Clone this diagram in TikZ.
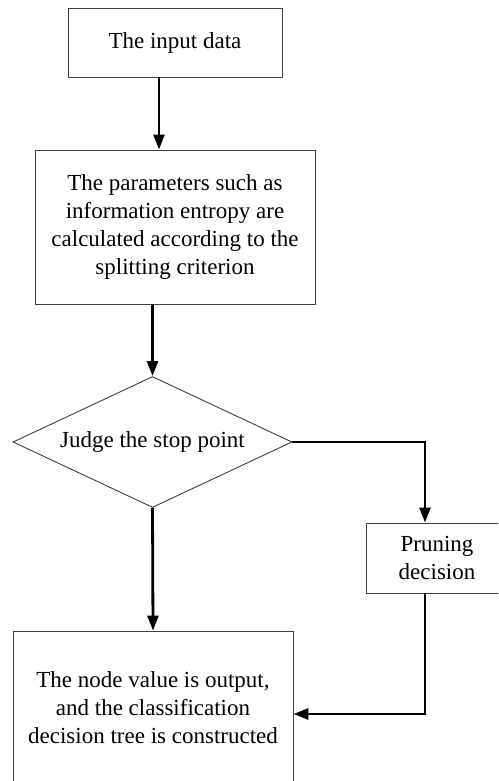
\documentclass[tikz,border=0pt]{standalone}
\usepackage{fontspec}
\setmainfont{Liberation Serif}
\usetikzlibrary{arrows.meta,shapes.geometric}

\begin{document}
\begin{tikzpicture}[x=1pt,y=-1pt,
    box/.style={draw=black!75, line width=0.9pt, rectangle, align=center,
                inner sep=0pt, font=\fontsize{23}{28}\selectfont},
    judgebox/.style={box, diamond, aspect=2.13},
    flow/.style={line width=2.8pt, -{Triangle[width=11pt,length=15pt]}}]
  % page frame
  \useasboundingbox (0,0) rectangle (498,781);
  \clip (0,0) rectangle (498,781);

  % steps
  \node[box, minimum width=214, minimum height=69] (input) at (175,42.5)
    {The input data};
  \node[box, minimum width=280, minimum height=154] (params) at (175,227)
    {The parameters such as\\information entropy are\\calculated according to the\\splitting criterion};
  \node[judgebox, minimum width=279, minimum height=131] (judge) at (152.5,442)
    {Judge the stop point};
  \node[box, minimum width=142, minimum height=70] (prune) at (437,558)
    {Pruning\\decision};
  \node[box, minimum width=280, minimum height=154] (output) at (153,708)
    {The node value is output,\\and the classification\\decision tree is constructed};

  % main flow
  \draw[flow] ([xshift=-16pt]input.south) -- ([xshift=-16pt]input.south |- params.north);
  \draw[flow] (judge.north |- params.south) -- (judge.north);
  \draw[flow] (judge.south) -- (output.north);

  % pruning branch
  \draw[flow] (judge.east) -| ([xshift=-12pt]prune.north);
  \draw[flow] ([xshift=-12pt]prune.south) |- ([yshift=-6pt]output.east);
\end{tikzpicture}
\end{document}
